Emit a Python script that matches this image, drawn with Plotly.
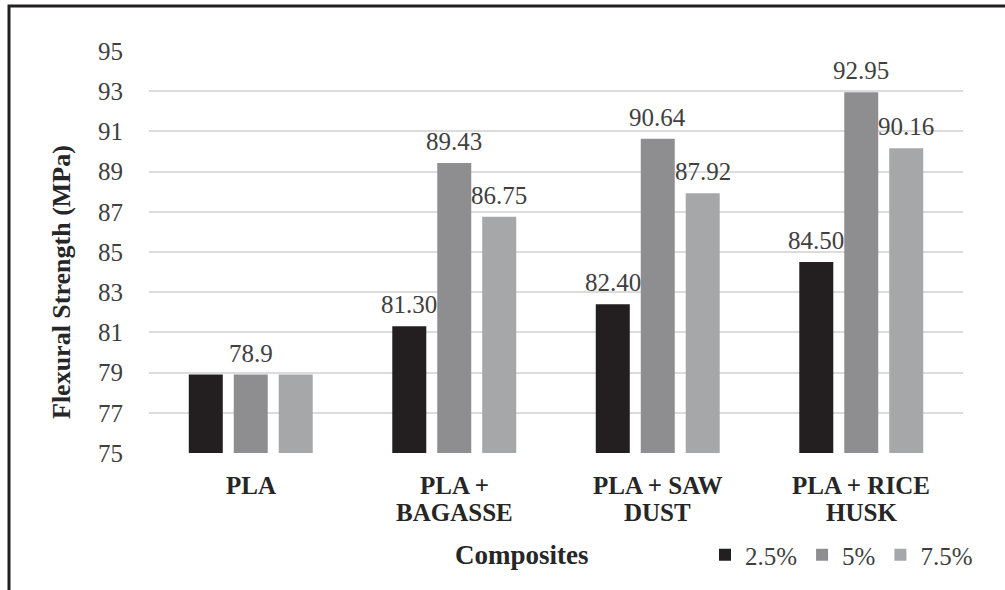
import plotly.graph_objects as go

# Flexural strength of PLA composites at three filler loadings
categories = ["PLA", "PLA + BAGASSE", "PLA + SAW DUST", "PLA + RICE HUSK"]
category_lines = [["PLA"], ["PLA +", "BAGASSE"], ["PLA + SAW", "DUST"], ["PLA + RICE", "HUSK"]]
series_names = ["2.5%", "5%", "7.5%"]
strength_2_5 = [78.9, 81.30, 82.40, 84.50]
strength_5 = [78.9, 89.43, 90.64, 92.95]
strength_7_5 = [78.9, 86.75, 87.92, 90.16]
labels_2_5 = ["", "81.30", "82.40", "84.50"]
labels_5 = ["78.9", "89.43", "90.64", "92.95"]
labels_7_5 = ["", "86.75", "87.92", "90.16"]
y_ticks = [75, 77, 79, 81, 83, 85, 87, 89, 91, 93, 95]

colors = ["#231f20", "#8e8e91", "#a6a7a9"]
serif = "Liberation Serif"
text_grey = "#404040"
title_black = "#262626"

W, H = 1005, 590
L, R, T, B = 149, 42, 51, 137
plot_w = W - L - R
plot_h = H - T - B
BARGAP, GROUPGAP = 0.337, 0.244
n_series = 3
# pixel width of one bar slot inside a category group
slot_px = plot_w / len(categories) * (1 - BARGAP) / n_series


def px_x(px):
    return (px - L) / plot_w


def px_y(py):
    return (H - B - py) / plot_h


all_values = [strength_2_5, strength_5, strength_7_5]
all_labels = [labels_2_5, labels_5, labels_7_5]

fig = go.Figure()
for name, vals, col in zip(series_names, all_values, colors):
    fig.add_trace(go.Bar(
        x=categories, y=vals, name=name,
        marker=dict(color=col, line=dict(width=0)),
        hoverinfo="x+y",
    ))

annotations = []
# value labels above each bar
for i, (vals, txts) in enumerate(zip(all_values, all_labels)):
    for cat, v, t in zip(categories, vals, txts):
        if not t:
            continue
        annotations.append(dict(
            x=cat, y=v, text=t, xref="x", yref="y",
            xanchor="center", yanchor="bottom",
            xshift=(i - (n_series - 1) / 2) * slot_px, yshift=6,
            showarrow=False,
            font=dict(family=serif, size=25, color=text_grey),
        ))

# category labels, one annotation per line for tight line spacing
for cat, lines in zip(categories, category_lines):
    for k, line in enumerate(lines):
        annotations.append(dict(
            x=cat, y=px_y(485 + 27 * k), xref="x", yref="paper",
            text=f"<b>{line}</b>", xanchor="center", yanchor="middle",
            showarrow=False,
            font=dict(family=serif, size=25, color=title_black),
        ))

annotations += [
    dict(text="<b>Flexural Strength (MPa)</b>", textangle=-90,
         xref="paper", yref="paper", x=px_x(61), y=px_y(282),
         xanchor="center", yanchor="middle", showarrow=False,
         font=dict(family=serif, size=26, color=title_black)),
    dict(text="<b>Composites</b>",
         xref="paper", yref="paper", x=px_x(522), y=px_y(555),
         xanchor="center", yanchor="middle", showarrow=False,
         font=dict(family=serif, size=27, color=title_black)),
]

fig.update_layout(
    width=W, height=H,
    margin=dict(l=L, r=R, t=T, b=B),
    paper_bgcolor="white", plot_bgcolor="white",
    barmode="group", bargap=BARGAP, bargroupgap=GROUPGAP,
    font=dict(family=serif, size=25, color=text_grey),
    showlegend=True,
    legend=dict(
        orientation="h", x=px_x(978), xanchor="right",
        y=px_y(555), yanchor="middle",
        font=dict(family=serif, size=25, color=text_grey),
        itemwidth=30, traceorder="normal",
        bgcolor="rgba(0,0,0,0)",
    ),
    xaxis=dict(
        showgrid=False, showline=False, zeroline=False,
        ticks="", showticklabels=False,
    ),
    yaxis=dict(
        range=[75, 95], tickvals=y_ticks,
        showgrid=True, gridcolor="#dcdcdc", gridwidth=2,
        zeroline=False, showline=False, ticks="",
        ticklabelstandoff=25,
        tickfont=dict(family=serif, size=25, color=text_grey),
    ),
    annotations=annotations,
    shapes=[
        dict(type="path", xref="paper", yref="paper",
             path=f"M {px_x(9)} {px_y(600)} L {px_x(9)} {px_y(6)} L {px_x(1015)} {px_y(6)}",
             line=dict(color="#231f20", width=3)),
    ],
)

fig.write_html("out.html")
